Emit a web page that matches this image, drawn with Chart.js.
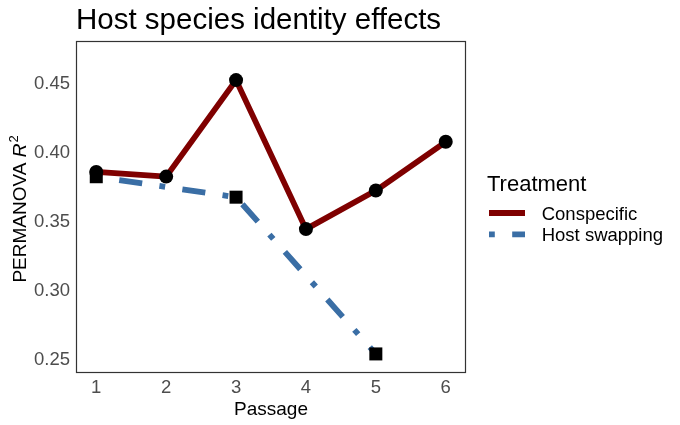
<!DOCTYPE html>
<html lang="en">
<head>
    <meta charset="UTF-8">
    <title>Host species identity effects</title>
    <script src="https://cdn.jsdelivr.net/npm/chart.js@4.4.1/dist/chart.umd.min.js"></script>
    <style>
        html, body { margin: 0; padding: 0; background: #ffffff; }
        canvas { display: block; }
    </style>
</head>
<body>
    <canvas id="chart" width="680" height="425"></canvas>

    <script>
        // Values
        const passages = [1, 2, 3, 4, 5, 6];
        const conspecific = [0.386, 0.3826, 0.4524, 0.3446, 0.3725, 0.4078];
        const swapPassages = [1, 3, 5];
        const hostSwapping = [0.3825, 0.3677, 0.2543];
        const yTicks = [0.25, 0.30, 0.35, 0.40, 0.45];
        const seriesNames = ['Conspecific', 'Host swapping'];

        const FONT = "'Liberation Sans', Arial, sans-serif";
        const RED = '#7f0000';
        const BLUE = '#3a6ea5';
        const LW = 5.8;
        const DOTDASH = [LW, LW * 3, LW * 4, LW * 3];

        // Titles, panel border and legend drawn on top of the chart
        const decor = {
            id: 'decor',
            afterDraw(chart) {
                const ctx = chart.ctx;
                const a = chart.chartArea;
                ctx.save();

                // panel border
                ctx.strokeStyle = '#333333';
                ctx.lineWidth = 1.2;
                ctx.setLineDash([]);
                ctx.strokeRect(a.left + 0.5, a.top + 0.5, a.right - a.left - 1, a.bottom - a.top - 1);

                // main title
                ctx.fillStyle = '#000000';
                ctx.font = '29.5px ' + FONT;
                ctx.textAlign = 'left';
                ctx.textBaseline = 'alphabetic';
                ctx.fillText('Host species identity effects', a.left, 29);

                // y axis title with italic R and superscript 2
                ctx.save();
                ctx.translate(25.5, 209);
                ctx.rotate(-Math.PI / 2);
                const partA = 'PERMANOVA ';
                ctx.font = '19px ' + FONT;
                const wA = ctx.measureText(partA).width;
                ctx.font = 'italic 19px ' + FONT;
                const wR = ctx.measureText('R').width;
                ctx.font = '13px ' + FONT;
                const w2 = ctx.measureText('2').width;
                let x0 = -(wA + wR + w2 + 1) / 2;
                ctx.font = '19px ' + FONT;
                ctx.fillText(partA, x0, 0);
                ctx.font = 'italic 19px ' + FONT;
                ctx.fillText('R', x0 + wA, 0);
                ctx.font = '13px ' + FONT;
                ctx.fillText('2', x0 + wA + wR + 1, -8);
                ctx.restore();

                // legend
                const lx = a.right + 21;
                ctx.font = '22px ' + FONT;
                ctx.fillText('Treatment', lx, 190.5);
                const rows = [
                    { y: 213, base: 220, color: RED, dash: [] },
                    { y: 234.4, base: 240.7, color: BLUE, dash: DOTDASH }
                ];
                rows.forEach((r, i) => {
                    ctx.strokeStyle = r.color;
                    ctx.lineWidth = LW;
                    ctx.lineCap = 'butt';
                    ctx.setLineDash(r.dash);
                    ctx.beginPath();
                    ctx.moveTo(lx + 2, r.y);
                    ctx.lineTo(lx + 38, r.y);
                    ctx.stroke();
                    ctx.setLineDash([]);
                    ctx.fillStyle = '#000000';
                    ctx.font = '18.5px ' + FONT;
                    ctx.fillText(seriesNames[i], lx + 54.7, r.base);
                });
                ctx.restore();
            }
        };

        const ctx = document.getElementById('chart').getContext('2d');
        new Chart(ctx, {
            type: 'line',
            data: {
                datasets: [
                    {
                        label: seriesNames[0],
                        data: passages.map((p, i) => ({ x: p, y: conspecific[i] })),
                        borderColor: RED,
                        borderWidth: LW,
                        borderCapStyle: 'butt',
                        borderJoinStyle: 'round',
                        pointStyle: 'circle',
                        pointRadius: 7,
                        pointBorderWidth: 0,
                        pointBackgroundColor: '#000000',
                        tension: 0
                    },
                    {
                        label: seriesNames[1],
                        data: swapPassages.map((p, i) => ({ x: p, y: hostSwapping[i] })),
                        borderColor: BLUE,
                        borderWidth: LW,
                        borderDash: DOTDASH,
                        borderCapStyle: 'butt',
                        borderJoinStyle: 'round',
                        pointStyle: 'rect',
                        pointRadius: 9.2,
                        pointBorderWidth: 0,
                        pointBackgroundColor: '#000000',
                        tension: 0
                    }
                ]
            },
            options: {
                responsive: false,
                animation: false,
                layout: { padding: { top: 41, right: 214, bottom: 0, left: 0 } },
                plugins: {
                    legend: { display: false },
                    title: { display: false },
                    tooltip: { enabled: false }
                },
                scales: {
                    x: {
                        type: 'linear',
                        min: 0.71,
                        max: 6.29,
                        afterFit: s => { s.height = 52; },
                        afterBuildTicks: s => { s.ticks = passages.map(v => ({ value: v })); },
                        grid: { display: false, drawTicks: false },
                        border: { display: false },
                        ticks: {
                            padding: 4,
                            color: '#4d4d4d',
                            font: { family: FONT, size: 18.5 },
                            callback: v => String(v)
                        },
                        title: {
                            display: true,
                            text: 'Passage',
                            color: '#000000',
                            font: { family: FONT, size: 19 },
                            padding: { top: 0, bottom: 4 }
                        }
                    },
                    y: {
                        min: 0.2405,
                        max: 0.4807,
                        afterFit: s => { s.width = 76; },
                        afterBuildTicks: s => { s.ticks = yTicks.map(v => ({ value: v })); },
                        grid: { display: false, drawTicks: false },
                        border: { display: false },
                        ticks: {
                            padding: 6,
                            color: '#4d4d4d',
                            font: { family: FONT, size: 18.5 },
                            callback: v => v.toFixed(2)
                        }
                    }
                }
            },
            plugins: [decor]
        });
    </script>
</body>
</html>
